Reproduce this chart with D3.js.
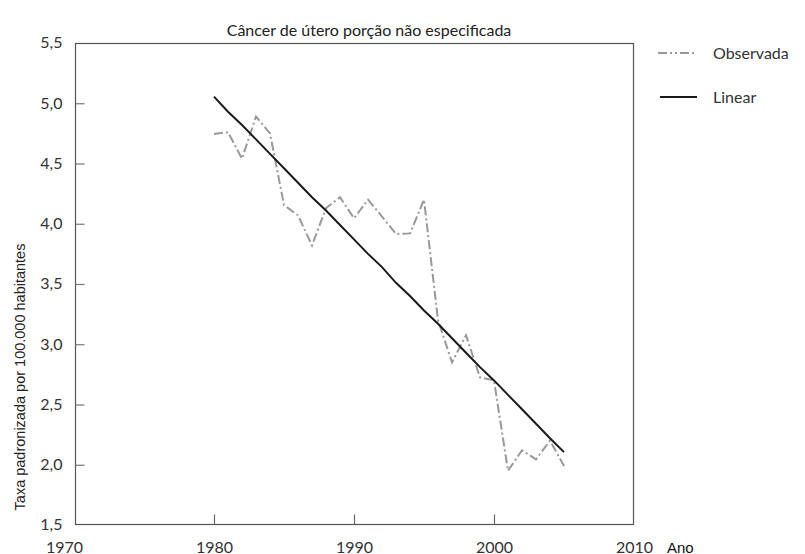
<!DOCTYPE html>
<html><head><meta charset="utf-8">
<script src="https://cdn.jsdelivr.net/npm/d3@7"></script>
<style>body{margin:0;background:#fff}svg{display:block}</style>
</head><body>
<svg id="c" width="805" height="554"></svg>
<script>
const years = [1980,1981,1982,1983,1984,1985,1986,1987,1988,1989,1990,1991,1992,1993,1994,1995,1996,1997,1998,1999,2000,2001,2002,2003,2004,2005];
const observada = [4.745,4.76,4.54,4.89,4.75,4.155,4.07,3.82,4.13,4.22,4.045,4.20,4.06,3.915,3.92,4.20,3.20,2.85,3.075,2.725,2.70,1.95,2.12,2.045,2.20,1.99];
const linear = [5.055,4.93,4.82,4.70,4.58,4.46,4.34,4.22,4.11,3.99,3.87,3.75,3.64,3.51,3.40,3.28,3.17,3.05,2.93,2.81,2.70,2.58,2.46,2.34,2.22,2.105];
const xTicks = [1970,1980,1990,2000,2010];
const yTicks = [1.5,2.0,2.5,3.0,3.5,4.0,4.5,5.0,5.5];
const title = "Câncer de útero porção não especificada";
const yTitle = "Taxa padronizada por 100.000 habitantes";
const xTitle = "Ano";
const seriesNames = ["Observada","Linear"];

const svg = d3.select("#c");
const x = d3.scaleLinear().domain([1970,2010]).range([74,634]);
const y = d3.scaleLinear().domain([1.5,5.5]).range([525,43]);
const fmt = v => d3.format(".1f")(v).replace(".", ",");
const lblFont = "Lato, 'Open Sans', sans-serif";

// frame
svg.append("rect").attr("x",75.5).attr("y",43.5).attr("width",558).attr("height",481)
  .attr("fill","none").attr("stroke","#555").attr("stroke-width",1.2);

// y ticks (inward)
const yAxis = d3.axisLeft(y).tickValues(yTicks).tickFormat(fmt).tickSizeInner(-9).tickSizeOuter(0);
const gy = svg.append("g").attr("transform","translate(75.5,0)").call(yAxis);
gy.select(".domain").remove();
gy.selectAll(".tick line").attr("stroke","#777").attr("stroke-width",1.2)
  .attr("display",d => (d===1.5||d===5.5)?"none":null);
gy.selectAll(".tick text").attr("x",-13).attr("dy","0.3em")
  .attr("font-family",lblFont).attr("font-size",16).attr("fill","#333");

// x ticks (inward)
const xAxis = d3.axisBottom(x).tickValues(xTicks).tickFormat(d3.format("d")).tickSizeInner(-10).tickSizeOuter(0);
const gx = svg.append("g").attr("transform","translate(0,524.5)").call(xAxis);
gx.select(".domain").remove();
gx.selectAll(".tick line").attr("stroke","#666").attr("stroke-width",1.2)
  .attr("display",d => (d===1970||d===2010)?"none":null);
gx.selectAll(".tick text").attr("y",28).attr("dy",0)
  .attr("dx",d => d===1970 ? -10 : 0)
  .attr("font-family",lblFont).attr("font-size",16).attr("fill","#333");

// titles
svg.append("text").attr("x",369).attr("y",36).attr("text-anchor","middle")
  .attr("font-family",lblFont).attr("font-size",16).attr("fill","#222").text(title);
svg.append("text").attr("transform","translate(25,377) rotate(-90)").attr("text-anchor","middle")
  .attr("font-family","'Liberation Sans', Arial, sans-serif").attr("font-size",14.5).attr("fill","#222").text(yTitle);
svg.append("text").attr("x",667).attr("y",552.5)
  .attr("font-family","'Liberation Sans', Arial, sans-serif").attr("font-size",15).attr("fill","#111").text(xTitle);

// lines
const obsData = years.map((yr,i)=>({yr, v:observada[i]}));
const linData = years.map((yr,i)=>({yr, v:linear[i]}));
const line = d3.line().x(d=>x(d.yr)).y(d=>y(d.v));
const dashObs = "9,3,2,3";
svg.append("path").datum(obsData).attr("d",line).attr("fill","none")
  .attr("stroke","#999").attr("stroke-width",2).attr("stroke-dasharray",dashObs);
svg.append("path").datum(linData).attr("d",line).attr("fill","none")
  .attr("stroke","#1a1a1a").attr("stroke-width",2);

// legend
const leg = svg.append("g");
leg.append("line").attr("x1",658).attr("x2",697).attr("y1",53).attr("y2",53)
  .attr("stroke","#999").attr("stroke-width",2).attr("stroke-dasharray","9,3,2,3,2,3");
leg.append("line").attr("x1",660).attr("x2",697).attr("y1",97).attr("y2",97)
  .attr("stroke","#1a1a1a").attr("stroke-width",2);
leg.append("text").attr("x",713).attr("y",59).attr("font-family",lblFont).attr("font-size",16).attr("fill","#333").text(seriesNames[0]);
leg.append("text").attr("x",713).attr("y",103).attr("font-family",lblFont).attr("font-size",16).attr("fill","#333").text(seriesNames[1]);
</script>
</body></html>
